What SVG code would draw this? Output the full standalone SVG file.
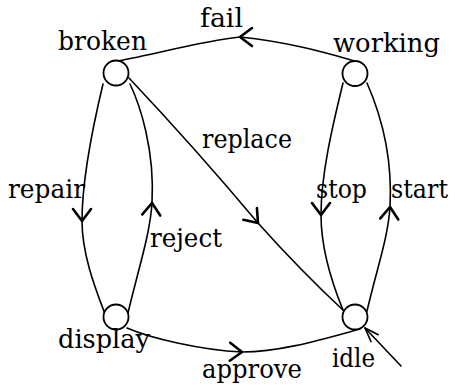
<svg xmlns="http://www.w3.org/2000/svg" width="455" height="391" viewBox="0 0 455 391">
<defs>
<style>
.edge{fill:none;stroke:#000;stroke-width:1.6;stroke-linecap:round}
.mid{marker-mid:url(#ah)}
.init{marker-end:url(#ahn)}
.node circle{fill:#fff;stroke:#000;stroke-width:1.8}
text{font-family:'DejaVu Serif','Liberation Serif',serif;font-size:26.5px;fill:#000}
</style>
<marker id="ah" markerUnits="userSpaceOnUse" viewBox="-15 -12 18 24" markerWidth="18" markerHeight="24" refX="0" refY="0" orient="auto" overflow="visible"><path d="M-12,-9 L0,0 L-12,9" fill="none" stroke="#000" stroke-width="2.6" stroke-linecap="round" stroke-linejoin="round"/></marker>
<marker id="ahn" markerUnits="userSpaceOnUse" viewBox="-16 -8 18 16" markerWidth="18" markerHeight="16" refX="0" refY="0" orient="auto" overflow="visible"><path d="M-14,-5 L0,0 L-14,5" fill="none" stroke="#000" stroke-width="1.6" stroke-linecap="round" stroke-linejoin="round"/></marker>
</defs>
<rect width="455" height="391" fill="#fff"/>
<g id="connectors">
<path id="e-fail" class="edge mid" d="M355,61 C330,54 290,42 240,37 C205,40.5 160,53 118,61"/>
<path id="e-repair" class="edge mid" d="M103,84 C92,130 82,180 82,221 C82,255 96,290 105,314"/>
<path id="e-reject" class="edge mid" d="M128,313 C138,270 150,235 152,203 C155,150 140,105 130,84"/>
<path id="e-replace" class="edge mid" d="M129,78 Q195,148 258,223 Q300,270 344,311"/>
<path id="e-stop" class="edge mid" d="M343,83 C332,128 321,175 321,215 C321,252 334,288 343,310"/>
<path id="e-start" class="edge mid" d="M367,311 C377,268 388,238 390,207 C393,152 378,108 367,83"/>
<path id="e-approve" class="edge mid" d="M127,328 C150,338 200,350 242,352 C280,352 320,340 360,329"/>
<path id="e-init" class="edge init" d="M401,366 L365,328"/>
<text x="200" y="27" textLength="43" lengthAdjust="spacingAndGlyphs">fail</text>
<text x="202" y="148" textLength="90" lengthAdjust="spacingAndGlyphs">replace</text>
<text x="8" y="198" textLength="77" lengthAdjust="spacingAndGlyphs">repair</text>
<text x="316" y="198" textLength="51" lengthAdjust="spacingAndGlyphs">stop</text>
<text x="391" y="198" textLength="57" lengthAdjust="spacingAndGlyphs">start</text>
<text x="150" y="247" textLength="72" lengthAdjust="spacingAndGlyphs">reject</text>
<text x="202" y="378" textLength="100" lengthAdjust="spacingAndGlyphs">approve</text>
</g>
<g id="broken" class="node"><circle cx="116" cy="73" r="12.5"/><text x="58" y="50" textLength="89" lengthAdjust="spacingAndGlyphs">broken</text></g>
<g id="working" class="node"><circle cx="355" cy="73.5" r="12.5"/><text x="333" y="52" textLength="107" lengthAdjust="spacingAndGlyphs">working</text></g>
<g id="display" class="node"><circle cx="116" cy="317" r="12.5"/><text x="58" y="348" textLength="92" lengthAdjust="spacingAndGlyphs">display</text></g>
<g id="idle" class="node"><circle cx="355" cy="317" r="12.5"/><text x="332" y="367" textLength="43" lengthAdjust="spacingAndGlyphs">idle</text></g>
</svg>
